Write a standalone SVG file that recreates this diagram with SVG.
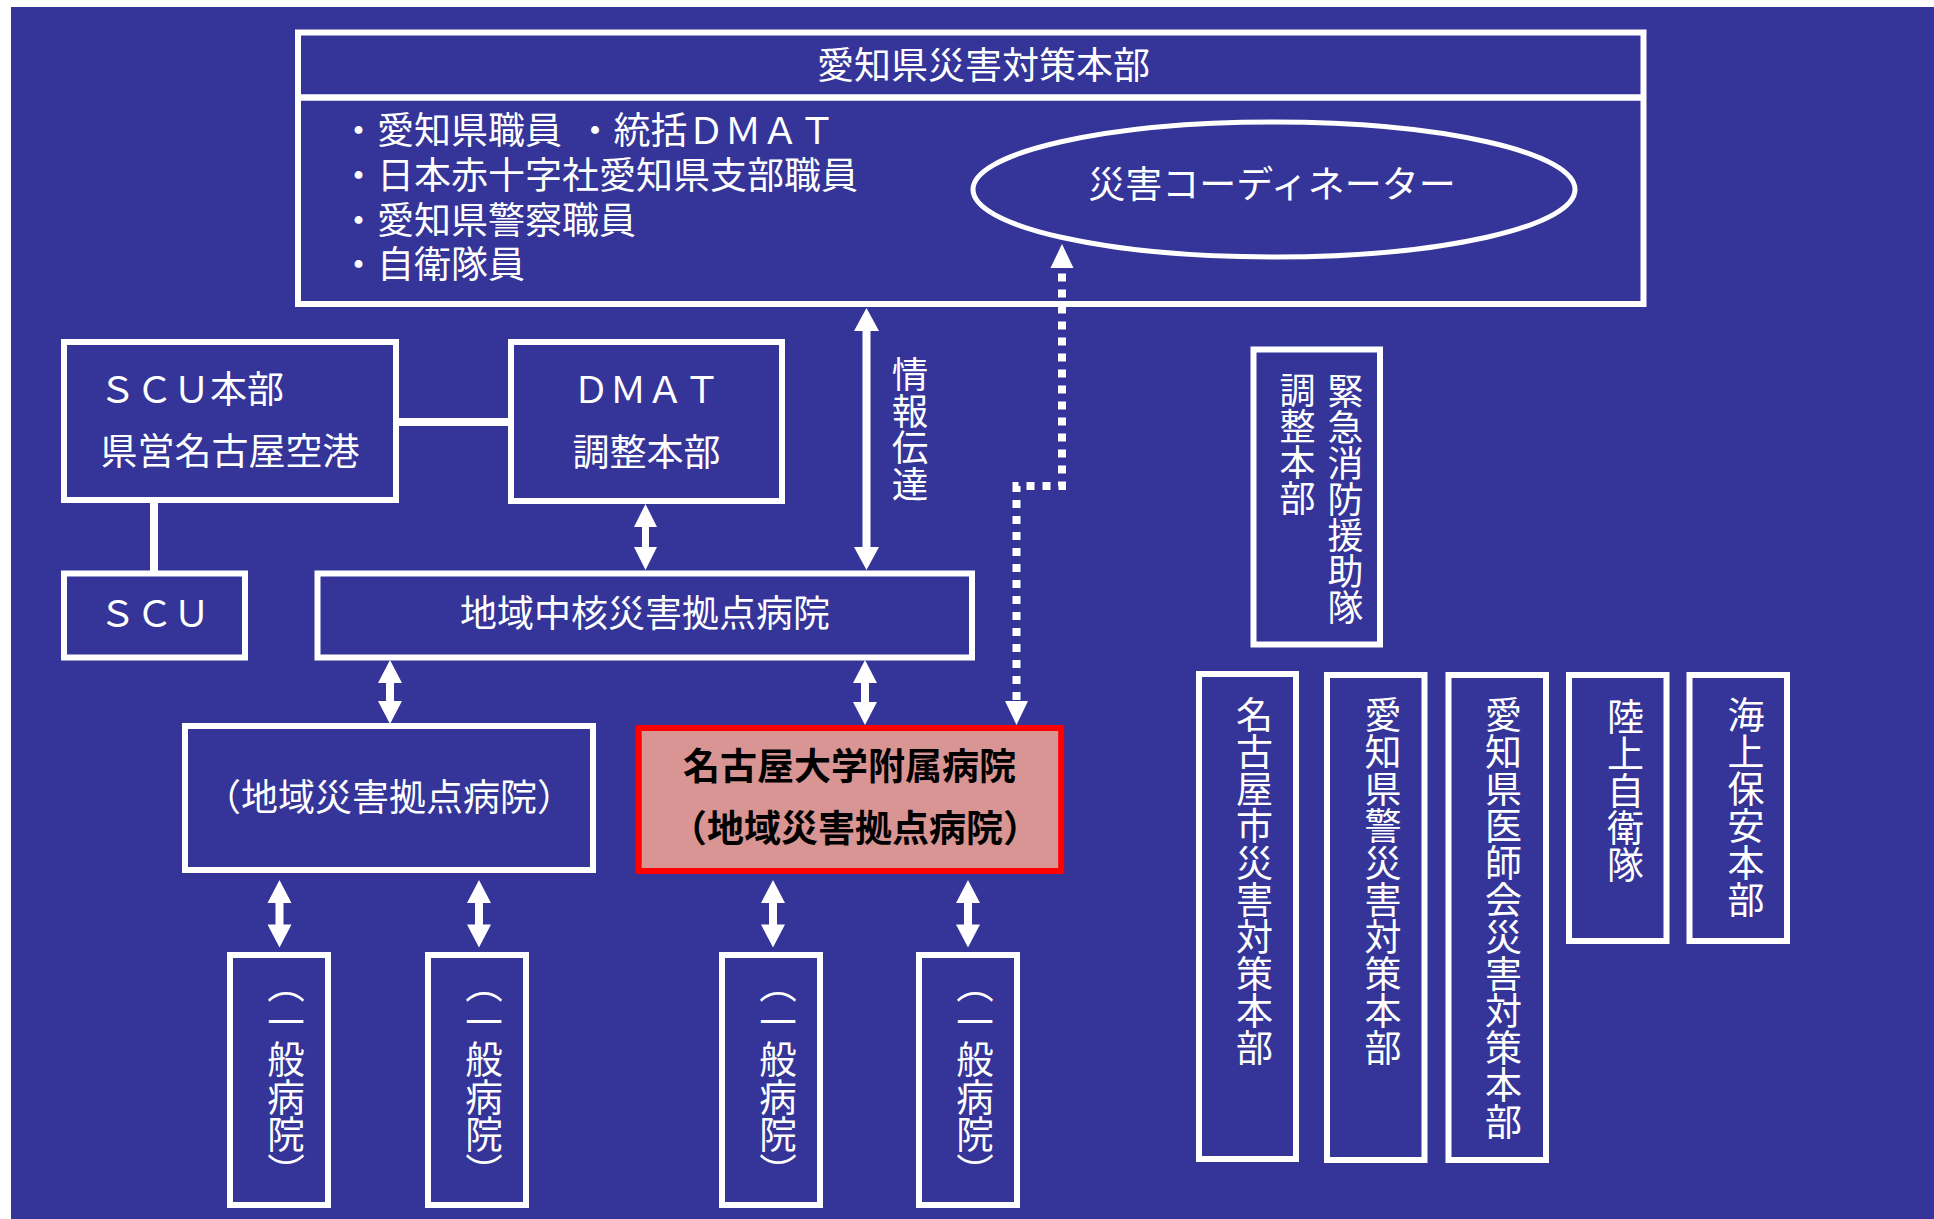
<svg xmlns="http://www.w3.org/2000/svg" width="1934" height="1219" viewBox="0 0 1934 1219">
<style>
.box{fill:none;stroke:#fff;stroke-width:6}
.t{font-family:"Noto Sans CJK JP","Noto Sans CJK SC",sans-serif;fill:#fff;font-size:37px}
.c{text-anchor:middle}
.v{writing-mode:vertical-rl}
.arr{fill:#fff}
.dots{fill:none;stroke:#fff;stroke-width:8;stroke-dasharray:8 8}
</style>
<rect x="11" y="7" width="1923" height="1212" fill="#343499"/>

<g id="prefecture-hq">
<rect class="box" x="298" y="32.5" width="1345.5" height="271.5"/>
<line x1="298" y1="97.5" x2="1643.5" y2="97.5" stroke="#fff" stroke-width="6.5"/>
<text class="t c" x="983.5" y="78.5">愛知県災害対策本部</text>
<text class="t" x="340" y="144">・愛知県職員<tspan x="576.5">・統括ＤＭＡＴ</tspan><tspan x="340" y="189">・日本赤十字社愛知県支部職員</tspan><tspan x="340" y="233.5">・愛知県警察職員</tspan><tspan x="340" y="278">・自衛隊員</tspan></text>
</g>

<g id="coordinator">
<ellipse cx="1274" cy="189.5" rx="301" ry="67.5" fill="none" stroke="#fff" stroke-width="5"/>
<text class="t c" x="1272" y="197.5">災害コーディネーター</text>
</g>

<g id="scu-hq">
<rect class="box" x="64" y="342" width="332" height="158"/>
<text class="t" x="99" y="403">ＳＣＵ本部</text>
<text class="t c" x="230" y="464.5">県営名古屋空港</text>
</g>

<g id="dmat-hq">
<rect class="box" x="511" y="342" width="271" height="159"/>
<text class="t c" x="646.5" y="402.5">ＤＭＡＴ</text>
<text class="t c" x="646.5" y="465.5">調整本部</text>
</g>

<g id="scu">
<rect class="box" x="64" y="573.5" width="181" height="84"/>
<text class="t c" x="154.5" y="627">ＳＣＵ</text>
</g>

<g id="core-hospital">
<rect class="box" x="317.5" y="573.5" width="654.5" height="84"/>
<text class="t c" x="645" y="627">地域中核災害拠点病院</text>
</g>

<g id="regional-hospital">
<rect class="box" x="185" y="726" width="408" height="144"/>
<text class="t c" x="389" y="810.5">（地域災害拠点病院）</text>
</g>

<g id="nagoya-univ-hospital">
<rect x="638.7" y="728" width="422.5" height="143" fill="#D99594" stroke="#FF0000" stroke-width="6"/>
<text class="t c" x="849.5" y="780" style="fill:#000;font-weight:700">名古屋大学附属病院</text>
<text class="t c" x="855" y="841.5" style="fill:#000;font-weight:700">（地域災害拠点病院）</text>
</g>

<g id="general-hospital-1">
<rect class="box" x="230" y="955" width="98" height="250"/>
<text class="t v" x="286" y="965" style="font-size:37.5px">（一般病院）</text>
</g>
<g id="general-hospital-2">
<rect class="box" x="428" y="955" width="98" height="250"/>
<text class="t v" x="484" y="965" style="font-size:37.5px">（一般病院）</text>
</g>
<g id="general-hospital-3">
<rect class="box" x="722" y="955" width="98" height="250"/>
<text class="t v" x="778" y="965" style="font-size:37.5px">（一般病院）</text>
</g>
<g id="general-hospital-4">
<rect class="box" x="919" y="955" width="98" height="250"/>
<text class="t v" x="975" y="965" style="font-size:37.5px">（一般病院）</text>
</g>

<g id="fire-rescue">
<rect class="box" x="1253.5" y="349.5" width="126.5" height="295"/>
<text class="t v" x="1345.5" y="373.5" style="font-size:36px">緊急消防援助隊</text>
<text class="t v" x="1297.5" y="372" style="font-size:36px">調整本部</text>
</g>

<g id="nagoya-city">
<rect class="box" x="1199" y="674" width="97" height="485"/>
<text class="t v" x="1254.5" y="696">名古屋市災害対策本部</text>
</g>
<g id="police">
<rect class="box" x="1327" y="675" width="97.5" height="485"/>
<text class="t v" x="1383" y="696">愛知県警災害対策本部</text>
</g>
<g id="medical-assoc">
<rect class="box" x="1448.5" y="675" width="97.5" height="485"/>
<text class="t v" x="1503.5" y="696">愛知県医師会災害対策本部</text>
</g>
<g id="gsdf">
<rect class="box" x="1569" y="675" width="97.5" height="266"/>
<text class="t v" x="1625.5" y="698">陸上自衛隊</text>
</g>
<g id="coast-guard">
<rect class="box" x="1689.5" y="675" width="97.5" height="266"/>
<text class="t v" x="1746" y="696">海上保安本部</text>
</g>

<g id="connectors">
<line x1="396" y1="422" x2="511" y2="422" stroke="#fff" stroke-width="8"/>
<line x1="154" y1="500" x2="154" y2="573.5" stroke="#fff" stroke-width="8"/>
<path class="arr" d="M866.5,308 L879,331 L870.5,331 L870.5,547 L879,547 L866.5,570 L854,547 L862.5,547 L862.5,331 L854,331 Z"/>
<text class="t v" x="910" y="356" style="font-size:36.5px">情報伝達</text>
<path class="arr" d="M645.5,504 L657,527 L649,527 L649,547 L657,547 L645.5,570 L634,547 L642,547 L642,527 L634,527 Z"/>
<path class="arr" d="M390,660 L402,683 L394,683 L394,701 L402,701 L390,724 L378,701 L386,701 L386,683 L378,683 Z"/>
<path class="arr" d="M865,660 L877,683 L869,683 L869,702 L877,702 L865,725 L853,702 L861,702 L861,683 L853,683 Z"/>
<path class="arr" d="M279.5,880 L291.5,903 L283.5,903 L283.5,924.5 L291.5,924.5 L279.5,947.5 L267.5,924.5 L275.5,924.5 L275.5,903 L267.5,903 Z"/>
<path class="arr" d="M479,880 L491,903 L483,903 L483,924.5 L491,924.5 L479,947.5 L467,924.5 L475,924.5 L475,903 L467,903 Z"/>
<path class="arr" d="M773,880 L785,903 L777,903 L777,924.5 L785,924.5 L773,947.5 L761,924.5 L769,924.5 L769,903 L761,903 Z"/>
<path class="arr" d="M968,880 L980,903 L972,903 L972,924.5 L980,924.5 L968,947.5 L956,924.5 L964,924.5 L964,903 L956,903 Z"/>
<path class="dots" d="M1016.5,700 V486 H1062 V268"/>
<path class="arr" d="M1062,244 L1073.5,268 L1050.5,268 Z"/>
<path class="arr" d="M1016.5,725 L1028,701 L1005,701 Z"/>
</g>
</svg>
